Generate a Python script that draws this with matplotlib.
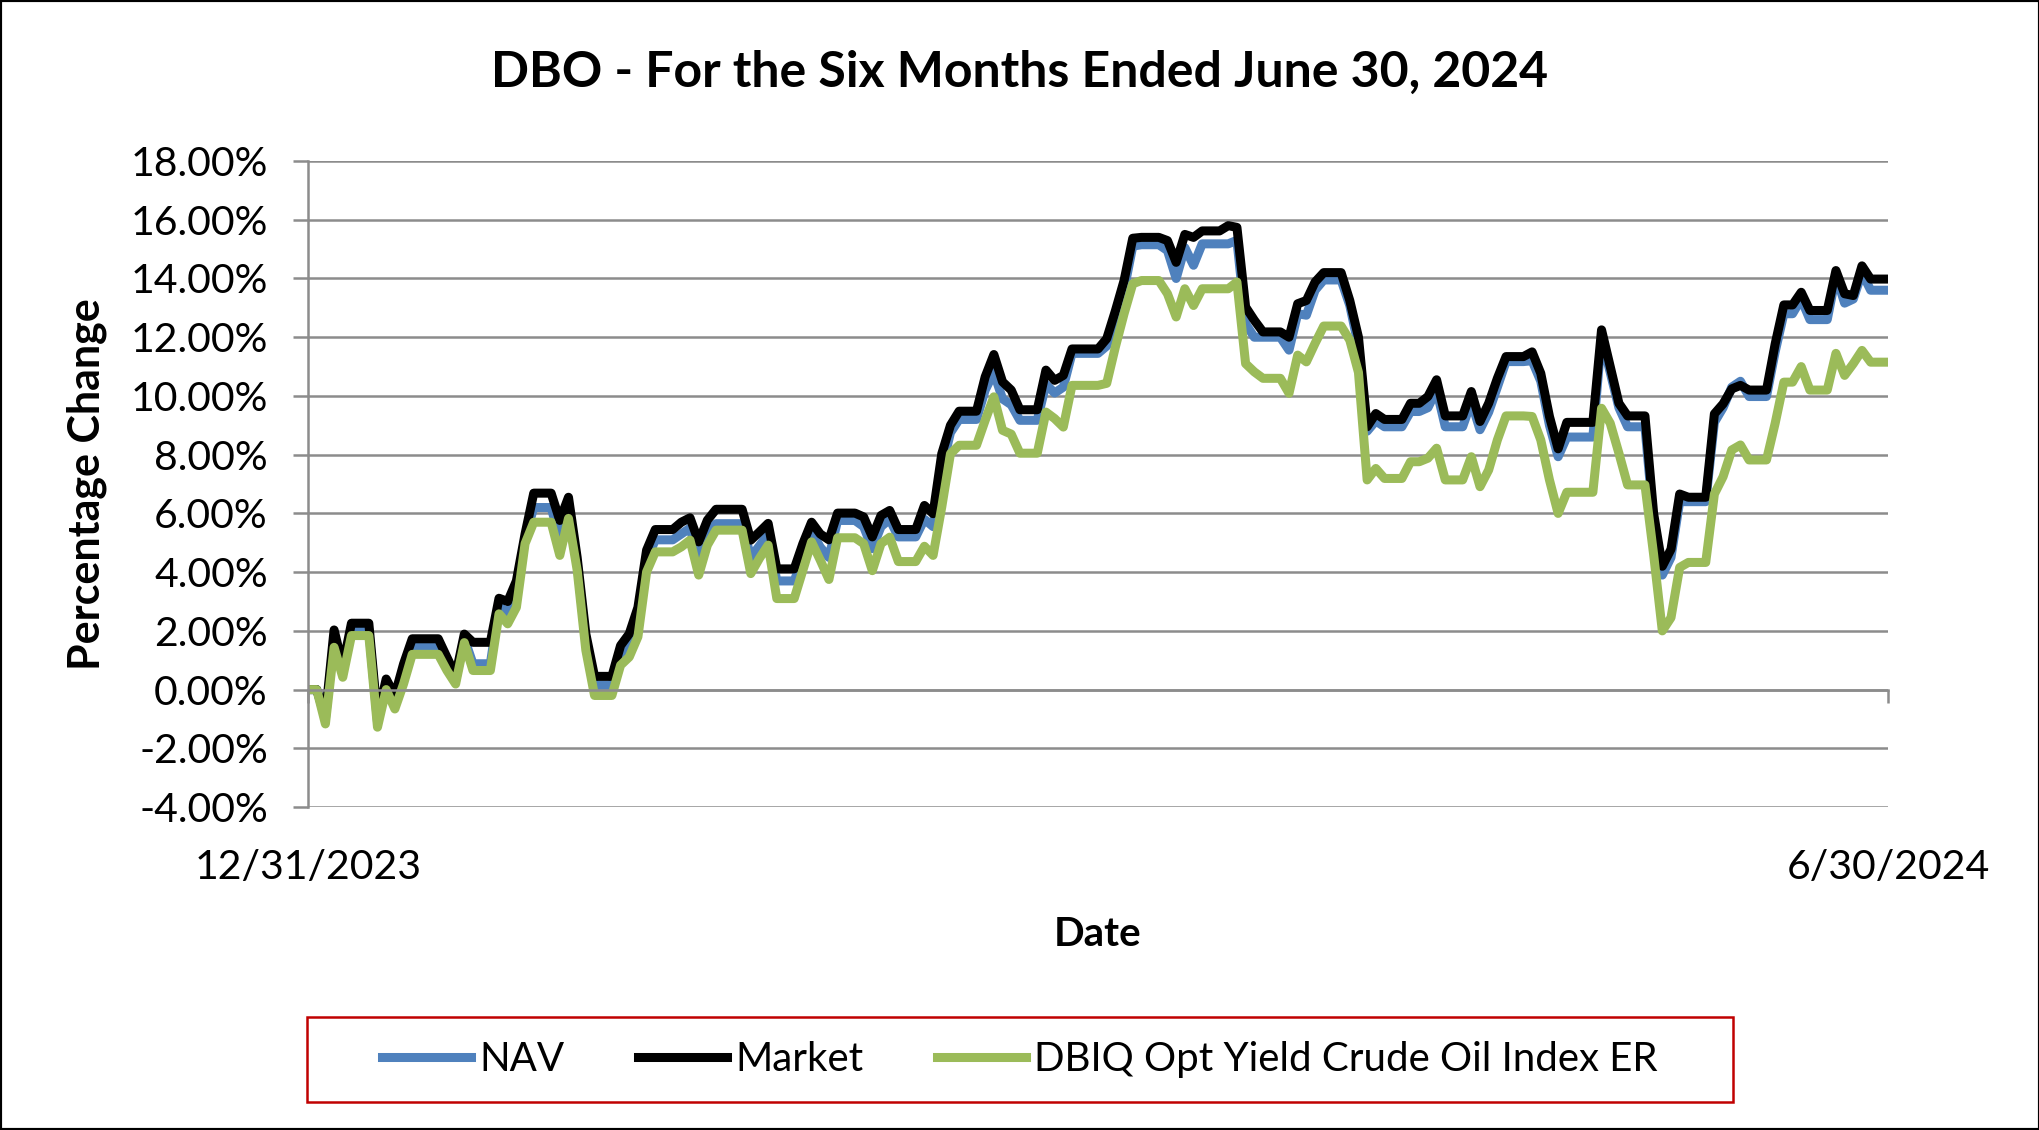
import matplotlib
matplotlib.use('Agg')
import matplotlib.pyplot as plt
import pandas as pd
from matplotlib.patches import Rectangle

plt.rcParams['font.family'] = ['Lato', 'DejaVu Sans']

# Daily values (calendar days, weekends/holidays carry the prior close)
dates = pd.date_range('2023-12-31', '2024-06-30', freq='D')

nav = [
    0.00, 0.00, -1.00, 1.75, 0.60, 2.05, 2.05, 2.05, -1.10, 0.20,
    -0.40, 0.55, 1.44, 1.44, 1.44, 1.44, 0.85, 0.30, 1.75, 0.88,
    0.88, 0.88, 2.85, 2.60, 3.25, 5.15, 6.20, 6.20, 6.20, 5.15,
    6.20, 4.30, 1.60, 0.15, 0.15, 0.15, 1.15, 1.50, 2.30, 4.40,
    5.10, 5.10, 5.10, 5.30, 5.50, 4.45, 5.35, 5.65, 5.65, 5.65,
    5.65, 4.50, 4.90, 5.30, 3.70, 3.70, 3.70, 4.50, 5.40, 4.85,
    4.50, 5.76, 5.76, 5.76, 5.55, 4.80, 5.55, 5.80, 5.20, 5.20,
    5.20, 5.80, 5.55, 7.50, 8.75, 9.20, 9.20, 9.20, 10.20, 10.80,
    9.90, 9.70, 9.17, 9.17, 9.17, 10.40, 10.10, 10.30, 11.45, 11.45,
    11.45, 11.45, 11.70, 12.60, 13.60, 15.10, 15.15, 15.15, 15.15, 14.95,
    14.00, 15.05, 14.45, 15.18, 15.18, 15.18, 15.18, 15.30, 12.46, 12.00,
    12.00, 12.00, 12.00, 11.56, 12.80, 12.75, 13.60, 13.95, 13.95, 13.95,
    13.08, 11.70, 8.80, 9.15, 8.95, 8.95, 8.95, 9.47, 9.47, 9.60,
    10.20, 8.95, 8.95, 8.95, 9.80, 8.85, 9.45, 10.30, 11.17, 11.17,
    11.17, 11.20, 10.50, 9.00, 7.93, 8.60, 8.60, 8.60, 8.60, 12.00,
    10.80, 9.60, 8.95, 8.95, 8.95, 5.70, 3.90, 4.50, 6.40, 6.40,
    6.40, 6.40, 9.10, 9.60, 10.30, 10.50, 9.98, 9.98, 9.98, 11.50,
    12.80, 12.80, 13.30, 12.60, 12.60, 12.60, 14.10, 13.16, 13.30, 14.20,
    13.60, 13.60, 13.60,
]

market = [
    0.00, 0.00, -0.90, 2.03, 0.80, 2.26, 2.26, 2.26, -0.95, 0.36,
    -0.20, 0.87, 1.73, 1.73, 1.73, 1.73, 1.10, 0.48, 1.89, 1.61,
    1.61, 1.61, 3.11, 3.00, 3.70, 5.30, 6.69, 6.69, 6.69, 5.76,
    6.55, 4.50, 1.90, 0.45, 0.45, 0.45, 1.50, 1.90, 2.80, 4.75,
    5.45, 5.45, 5.45, 5.70, 5.85, 5.03, 5.77, 6.14, 6.14, 6.14,
    6.14, 5.09, 5.37, 5.66, 4.11, 4.11, 4.11, 4.97, 5.70, 5.30,
    5.10, 6.01, 6.01, 6.01, 5.88, 5.20, 5.93, 6.10, 5.45, 5.45,
    5.45, 6.27, 5.99, 8.03, 9.00, 9.48, 9.48, 9.48, 10.65, 11.41,
    10.48, 10.20, 9.53, 9.53, 9.53, 10.88, 10.53, 10.70, 11.60, 11.60,
    11.60, 11.60, 11.95, 12.90, 13.93, 15.37, 15.40, 15.40, 15.40, 15.29,
    14.55, 15.50, 15.40, 15.62, 15.62, 15.62, 15.80, 15.74, 13.03, 12.58,
    12.18, 12.18, 12.18, 12.00, 13.14, 13.25, 13.88, 14.20, 14.20, 14.20,
    13.25, 12.00, 8.95, 9.40, 9.20, 9.20, 9.20, 9.75, 9.75, 9.98,
    10.55, 9.32, 9.32, 9.32, 10.15, 9.13, 9.75, 10.60, 11.34, 11.34,
    11.34, 11.50, 10.77, 9.30, 8.20, 9.10, 9.10, 9.10, 9.10, 12.25,
    11.00, 9.75, 9.32, 9.32, 9.32, 6.00, 4.20, 4.78, 6.66, 6.55,
    6.55, 6.55, 9.39, 9.73, 10.24, 10.36, 10.20, 10.20, 10.20, 11.77,
    13.10, 13.10, 13.53, 12.91, 12.91, 12.91, 14.27, 13.48, 13.42, 14.43,
    13.98, 13.98, 13.98,
]

index_er = [
    0.00, 0.00, -1.17, 1.44, 0.42, 1.84, 1.84, 1.84, -1.28, 0.00,
    -0.66, 0.19, 1.20, 1.20, 1.20, 1.20, 0.65, 0.19, 1.60, 0.65,
    0.65, 0.65, 2.58, 2.24, 2.80, 4.97, 5.70, 5.70, 5.70, 4.57,
    5.83, 4.07, 1.34, -0.20, -0.20, -0.20, 0.83, 1.11, 1.80, 4.01,
    4.69, 4.69, 4.69, 4.86, 5.09, 3.90, 4.92, 5.43, 5.43, 5.43,
    5.43, 3.95, 4.47, 4.92, 3.10, 3.10, 3.10, 4.07, 5.03, 4.41,
    3.75, 5.17, 5.17, 5.17, 4.97, 4.05, 4.97, 5.19, 4.36, 4.36,
    4.36, 4.88, 4.57, 6.22, 8.03, 8.32, 8.32, 8.32, 9.17, 9.97,
    8.83, 8.70, 8.05, 8.05, 8.05, 9.45, 9.23, 8.94, 10.36, 10.36,
    10.36, 10.36, 10.43, 11.67, 12.80, 13.82, 13.93, 13.93, 13.93, 13.48,
    12.69, 13.65, 13.08, 13.65, 13.65, 13.65, 13.65, 13.88, 11.10, 10.82,
    10.60, 10.60, 10.60, 10.09, 11.39, 11.16, 11.79, 12.38, 12.38, 12.38,
    11.90, 10.80, 7.14, 7.53, 7.19, 7.19, 7.19, 7.76, 7.76, 7.88,
    8.22, 7.14, 7.14, 7.14, 7.93, 6.91, 7.48, 8.50, 9.32, 9.32,
    9.32, 9.30, 8.50, 7.14, 6.00, 6.72, 6.72, 6.72, 6.72, 9.58,
    9.07, 8.05, 6.97, 6.97, 6.97, 4.60, 2.00, 2.45, 4.16, 4.33,
    4.33, 4.33, 6.66, 7.25, 8.16, 8.33, 7.82, 7.82, 7.82, 9.07,
    10.47, 10.47, 11.00, 10.20, 10.20, 10.20, 11.45, 10.70, 11.10, 11.55,
    11.15, 11.15, 11.15,
]

series_names = ['NAV', 'Market', 'DBIQ Opt Yield Crude Oil Index ER']
series_colors = ['#4F81BD', '#000000', '#9BBB59']
y_ticks = [-4, -2, 0, 2, 4, 6, 8, 10, 12, 14, 16, 18]
x_tick_labels = ['12/31/2023', '6/30/2024']

grid_gray = '#8C8C8C'

fig = plt.figure(figsize=(20.4, 11.3), dpi=100)
ax = fig.add_axes([0.151, 0.2858, 0.7745, 0.5717])

for vals, name, color in zip([nav, market, index_er], series_names, series_colors):
    ax.plot(dates, vals, color=color, lw=6.5, label=name)

ax.set_xlim(dates[0], dates[-1])
ax.set_ylim(-4, 18)
ax.set_yticks(y_ticks)
ax.set_yticklabels([f'{v:.2f}%' for v in y_ticks])
ax.set_xticks([dates[0], dates[-1]])
ax.set_xticklabels(x_tick_labels)

ax.set_axisbelow(True)
ax.yaxis.grid(True, color=grid_gray, lw=1.8)
for side in ['top', 'right']:
    ax.spines[side].set_visible(False)
ax.spines['left'].set_color(grid_gray)
ax.spines['left'].set_linewidth(1.8)
ax.spines['bottom'].set_position(('data', 0))
ax.spines['bottom'].set_color(grid_gray)
ax.spines['bottom'].set_linewidth(1.8)

ax.tick_params(axis='y', direction='out', length=11, width=1.8, color=grid_gray,
               pad=18, labelsize=29.5)
ax.tick_params(axis='x', direction='out', length=9, width=1.8, color=grid_gray,
               pad=106, labelsize=29.5)

ax.text(-0.14, 0.5, 'Percentage Change', transform=ax.transAxes, rotation=90,
        ha='center', va='center', fontsize=31, fontweight='bold')
ax.text(0.5, -0.197, 'Date', transform=ax.transAxes, ha='center', va='center',
        fontsize=29, fontweight='bold')
fig.text(0.5, 0.936, 'DBO - For the Six Months Ended June 30, 2024',
         ha='center', va='center', fontsize=36, fontweight='bold')

handles, labels = ax.get_legend_handles_labels()
fig.legend(handles, labels, loc='center', bbox_to_anchor=(0.5, 0.062), ncol=3,
           frameon=False, fontsize=29, handlelength=2.2, handletextpad=0.2,
           columnspacing=1.84)

fig.patches.append(Rectangle((307 / 2040, 1 - 1102 / 1130), 1426 / 2040, 85 / 1130,
                             transform=fig.transFigure, fill=False,
                             edgecolor='#C00000', lw=1.8))
fig.patches.append(Rectangle((0, 0), 1, 1, transform=fig.transFigure, fill=False,
                             edgecolor='black', lw=3))

fig.savefig('out.png', dpi=100)
